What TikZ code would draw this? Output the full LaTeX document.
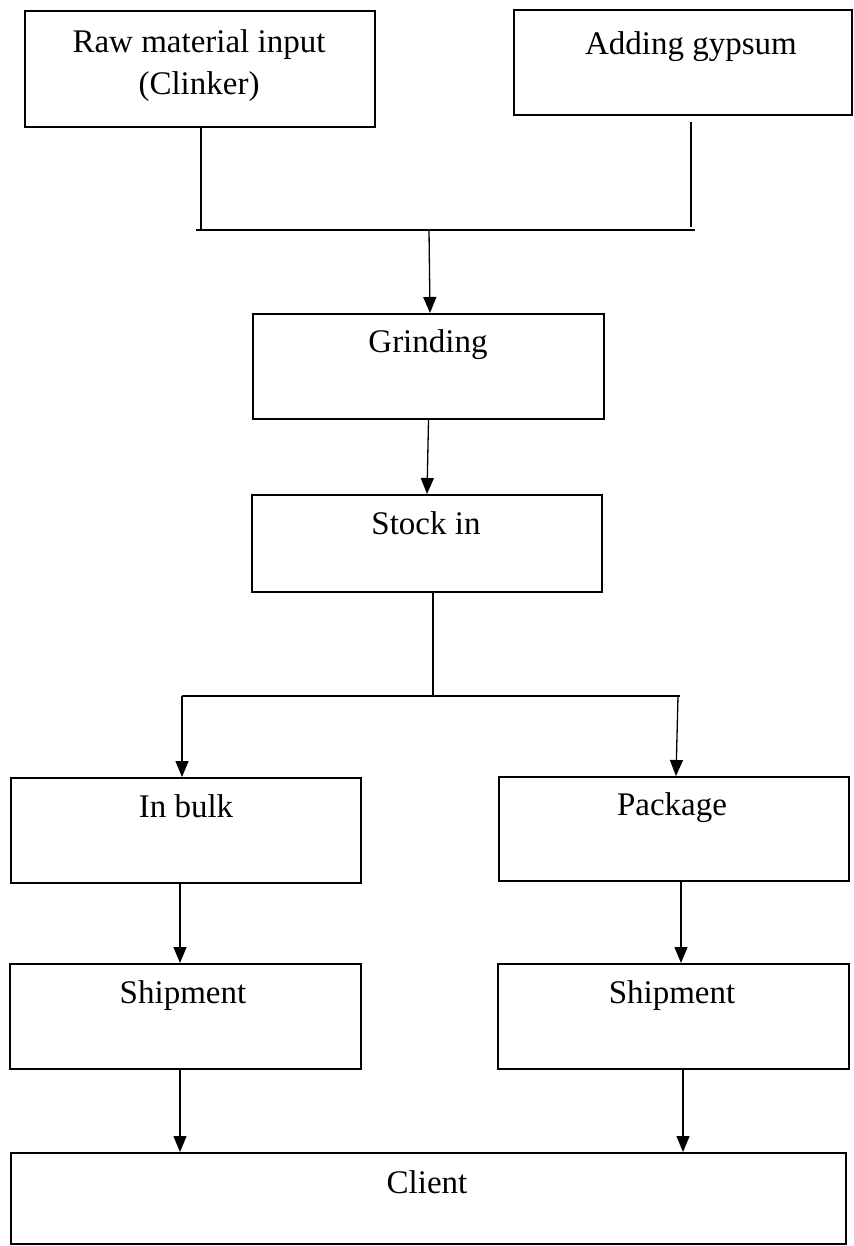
\documentclass[tikz,border=0pt]{standalone}
\usepackage{fontspec}
\setmainfont{Liberation Serif}
\usetikzlibrary{arrows.meta}

\tikzset{
  box/.style={draw, line width=1pt, anchor=north west, inner sep=0pt},
  txt/.style={anchor=base, inner sep=0pt, font=\fontsize{16.5}{21}\selectfont},
  link/.style={line width=0.65pt},
  arr/.style={link, -{Triangle[length=8pt,width=6.5pt]}}
}

\begin{document}
\begin{tikzpicture}[x=0.5pt,y=-0.5pt]
\useasboundingbox (0,0) rectangle (853,1246);

% Boxes
\node[box, minimum width=175pt, minimum height=58pt] (raw) at (24,10) {};
\node[box, minimum width=169pt, minimum height=52.5pt] (gyp) at (513,9) {};
\node[box, minimum width=175.5pt, minimum height=52.5pt] (grind) at (252,313) {};
\node[box, minimum width=175pt, minimum height=48.5pt] (stock) at (251,494) {};
\node[box, minimum width=175pt, minimum height=52.5pt] (bulk) at (10,777) {};
\node[box, minimum width=175pt, minimum height=52pt] (pack) at (498,776) {};
\node[box, minimum width=175.5pt, minimum height=52.5pt] (shipL) at (9,963) {};
\node[box, minimum width=175.5pt, minimum height=52.5pt] (shipR) at (497,963) {};
\node[box, minimum width=417.5pt, minimum height=45.5pt] (client) at (10,1152) {};

% Text Node
\node[txt, anchor=north, align=center] (rawT) at (199,29.5) {Raw material input\\(Clinker)};
% Text Node
\node[txt] (gypT) at (691,55) {Adding gypsum};
% Text Node
\node[txt] (grindT) at (428,352) {Grinding};
% Text Node
\node[txt] (stockT) at (426,534) {Stock in};
% Text Node
\node[txt] (bulkT) at (186,817) {In bulk};
% Text Node
\node[txt] (packT) at (672,815) {Package};
% Text Node
\node[txt] (shipLT) at (183,1003) {Shipment};
% Text Node
\node[txt] (shipRT) at (672,1003) {Shipment};
% Text Node
\node[txt] (clientT) at (427,1193) {Client};

% Junctions
\coordinate (jTL) at (196,230);
\coordinate (jTR) at (695,230);
\coordinate (gypB) at (691,122);
\coordinate (gypE) at (691,227);
\coordinate (jBL) at (182,696);
\coordinate (jBR) at (680,696);

%Straight Lines
\draw[link] (raw.south -| 201,0) -- (jTL -| 201,0);
\draw[link] (gypB) -- (gypE);
\draw[link] (jTL) -- (jTR);
\draw[arr] (jTL -| 429,0) -- (grind.north -| 430,0);
\draw[arr] (grind.south) -- (stock.north);
\draw[link] (stock.south -| 433,0) -- (jBL -| 433,0);
\draw[link] (jBL) -- (jBR);
\draw[arr] (jBL) -- (bulk.north -| jBL);
\draw[arr] (jBR -| 678,0) -- (pack.north -| 676,0);
\draw[arr] (bulk.south -| 180,0) -- (shipL.north -| 180,0);
\draw[arr] (pack.south -| 681,0) -- (shipR.north -| 681,0);
\draw[arr] (shipL.south -| 180,0) -- (client.north -| 180,0);
\draw[arr] (shipR.south -| 683,0) -- (client.north -| 683,0);

\end{tikzpicture}
\end{document}
